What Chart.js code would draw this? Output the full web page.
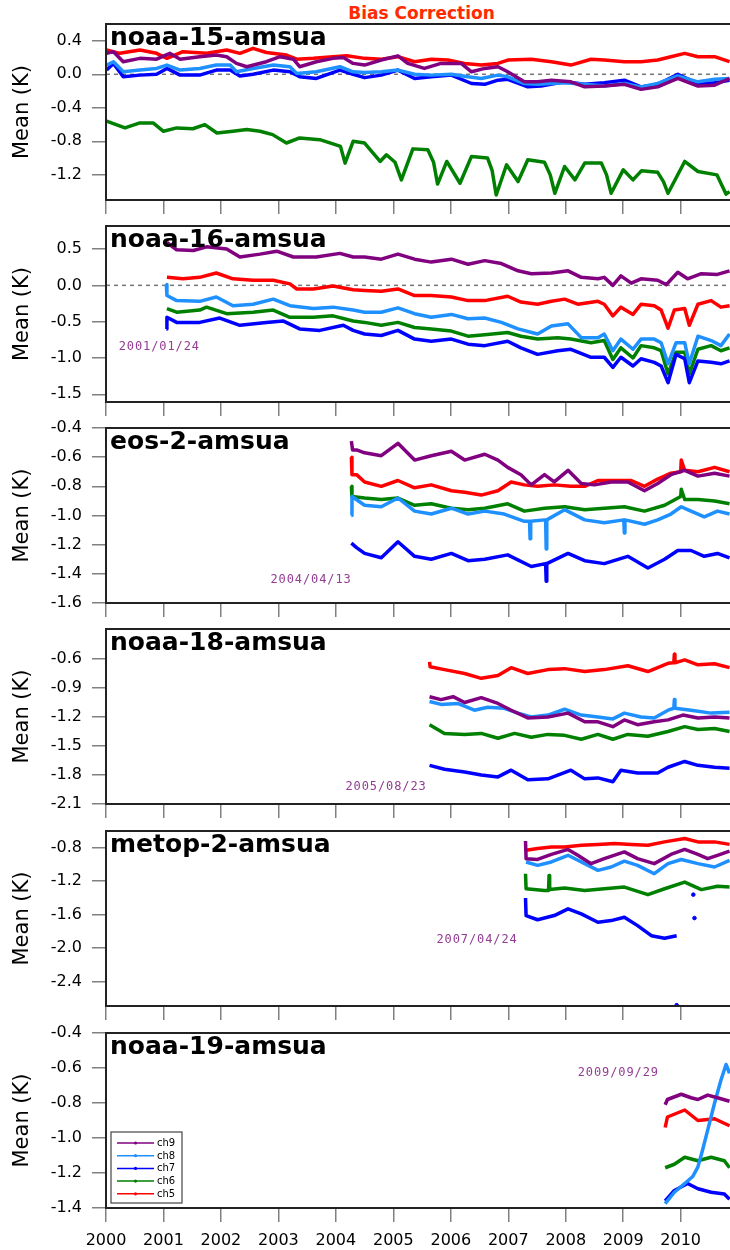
<!DOCTYPE html>
<html>
<head>
<meta charset="utf-8">
<script src="https://cdn.jsdelivr.net/npm/chart.js@4.4.0/dist/chart.umd.min.js"></script>
<style>
html, body { margin: 0; padding: 0; background: #fff; }
body { position: relative; width: 730px; height: 1250px; overflow: hidden; }
canvas { position: absolute; left: 0; }
#mainTitle {
    position: absolute; left: 0; width: 843px; top: 5px; text-align: center;
    font: bold 17px 'DejaVu Sans', sans-serif; line-height: 17px; color: #ff2a00;
}
</style>
</head>
<body>
<div id="mainTitle">Bias Correction</div>
<canvas id="p1"></canvas>
<canvas id="p2"></canvas>
<canvas id="p3"></canvas>
<canvas id="p4"></canvas>
<canvas id="p5"></canvas>
<canvas id="p6"></canvas>
<script>
// ---- data: [year, mean bias (K)] ----
const YEARS = [2000, 2001, 2002, 2003, 2004, 2005, 2006, 2007, 2008, 2009, 2010];
const CHANNELS = ['ch9', 'ch8', 'ch7', 'ch6', 'ch5'];

const n15Ticks = [0.4, 0.0, -0.4, -0.8, -1.2];
const n16Ticks = [0.5, 0.0, -0.5, -1.0, -1.5];
const eos2Ticks = [-0.4, -0.6, -0.8, -1.0, -1.2, -1.4, -1.6];
const n18Ticks = [-0.6, -0.9, -1.2, -1.5, -1.8, -2.1];
const metopTicks = [-0.8, -1.2, -1.6, -2.0, -2.4];
const n19Ticks = [-0.4, -0.6, -0.8, -1.0, -1.2, -1.4];

// noaa-15
const n15_ch9 = [[2000.01,0.25],[2000.13,0.27],[2000.30,0.15],[2000.59,0.19],[2000.88,0.18],[2001.11,0.25],[2001.29,0.18],[2001.63,0.21],[2001.92,0.23],[2002.10,0.21],[2002.27,0.13],[2002.45,0.09],[2002.79,0.15],[2003.03,0.21],[2003.26,0.18],[2003.37,0.09],[2003.66,0.15],[2003.95,0.19],[2004.13,0.20],[2004.30,0.13],[2004.50,0.11],[2004.79,0.17],[2005.08,0.22],[2005.25,0.13],[2005.54,0.07],[2005.83,0.13],[2006.18,0.13],[2006.36,0.03],[2006.59,0.07],[2006.82,0.09],[2006.99,0.03],[2007.28,-0.09],[2007.51,-0.09],[2007.75,-0.07],[2008.09,-0.09],[2008.33,-0.15],[2008.67,-0.14],[2009.02,-0.12],[2009.31,-0.18],[2009.60,-0.15],[2009.95,-0.05],[2010.30,-0.14],[2010.59,-0.13],[2010.85,-0.05]];
const n15_ch8 = [[2000.01,0.11],[2000.13,0.15],[2000.30,0.03],[2000.59,0.05],[2000.88,0.07],[2001.06,0.11],[2001.29,0.05],[2001.63,0.07],[2001.92,0.11],[2002.16,0.11],[2002.27,0.03],[2002.56,0.07],[2002.91,0.11],[2003.20,0.09],[2003.32,0.01],[2003.66,0.03],[2004.07,0.09],[2004.30,0.03],[2004.50,0.02],[2004.79,0.03],[2005.08,0.05],[2005.37,0.00],[2005.66,-0.01],[2006.01,0.00],[2006.30,-0.03],[2006.53,-0.05],[2006.82,-0.01],[2006.99,-0.03],[2007.28,-0.11],[2007.51,-0.12],[2007.98,-0.10],[2008.33,-0.12],[2008.67,-0.14],[2009.02,-0.11],[2009.31,-0.15],[2009.60,-0.11],[2009.95,-0.02],[2010.30,-0.09],[2010.59,-0.06],[2010.85,-0.05]];
const n15_ch7 = [[2000.01,0.05],[2000.13,0.13],[2000.30,-0.03],[2000.59,-0.01],[2000.88,0.00],[2001.06,0.07],[2001.29,-0.01],[2001.63,-0.01],[2001.92,0.05],[2002.16,0.05],[2002.33,-0.02],[2002.56,0.00],[2002.91,0.05],[2003.20,0.03],[2003.37,-0.03],[2003.66,-0.05],[2004.07,0.05],[2004.30,0.00],[2004.50,-0.04],[2004.79,-0.01],[2005.08,0.05],[2005.37,-0.05],[2005.66,-0.03],[2006.01,-0.01],[2006.36,-0.11],[2006.59,-0.12],[2006.82,-0.07],[2006.99,-0.06],[2007.34,-0.15],[2007.57,-0.14],[2007.98,-0.09],[2008.33,-0.12],[2008.67,-0.10],[2009.02,-0.07],[2009.31,-0.15],[2009.60,-0.12],[2009.95,0.00],[2010.30,-0.11],[2010.59,-0.10],[2010.85,-0.07]];
const n15_ch6 = [[2000.01,-0.56],[2000.33,-0.64],[2000.59,-0.58],[2000.82,-0.58],[2001.00,-0.68],[2001.23,-0.64],[2001.51,-0.65],[2001.72,-0.60],[2001.93,-0.70],[2002.21,-0.68],[2002.45,-0.66],[2002.68,-0.68],[2002.90,-0.72],[2003.14,-0.82],[2003.37,-0.76],[2003.72,-0.78],[2003.95,-0.83],[2004.08,-0.86],[2004.16,-1.06],[2004.30,-0.80],[2004.50,-0.82],[2004.77,-1.04],[2004.88,-0.96],[2005.03,-1.05],[2005.14,-1.26],[2005.34,-0.89],[2005.60,-0.90],[2005.70,-1.05],[2005.77,-1.31],[2005.93,-1.04],[2006.16,-1.30],[2006.36,-0.98],[2006.64,-1.00],[2006.72,-1.15],[2006.79,-1.44],[2006.97,-1.08],[2007.17,-1.28],[2007.34,-1.02],[2007.63,-1.05],[2007.73,-1.20],[2007.81,-1.42],[2007.98,-1.10],[2008.16,-1.26],[2008.33,-1.06],[2008.62,-1.06],[2008.71,-1.20],[2008.79,-1.42],[2009.00,-1.14],[2009.17,-1.26],[2009.32,-1.15],[2009.60,-1.17],[2009.70,-1.28],[2009.78,-1.42],[2010.07,-1.04],[2010.30,-1.16],[2010.63,-1.20],[2010.79,-1.43],[2010.85,-1.40]];
const n15_ch5 = [[2000.01,0.29],[2000.24,0.25],[2000.59,0.29],[2000.88,0.25],[2001.06,0.19],[2001.34,0.27],[2001.75,0.25],[2002.10,0.29],[2002.33,0.25],[2002.56,0.31],[2002.79,0.26],[2003.14,0.23],[2003.32,0.18],[2003.61,0.19],[2003.95,0.21],[2004.19,0.22],[2004.50,0.19],[2004.79,0.18],[2005.08,0.21],[2005.37,0.15],[2005.66,0.18],[2005.95,0.17],[2006.24,0.13],[2006.53,0.11],[2006.82,0.13],[2006.99,0.17],[2007.40,0.18],[2007.75,0.15],[2008.09,0.11],[2008.44,0.18],[2008.67,0.17],[2009.02,0.15],[2009.31,0.15],[2009.60,0.17],[2009.83,0.21],[2010.07,0.25],[2010.30,0.21],[2010.59,0.21],[2010.85,0.15]];

// noaa-16
const n16_ch9 = [[2001.06,0.59],[2001.23,0.49],[2001.52,0.48],[2001.75,0.53],[2002.10,0.50],[2002.33,0.39],[2002.68,0.43],[2002.97,0.47],[2003.26,0.39],[2003.66,0.39],[2004.07,0.44],[2004.30,0.39],[2004.50,0.39],[2004.79,0.36],[2005.08,0.43],[2005.37,0.36],[2005.66,0.32],[2006.01,0.36],[2006.30,0.29],[2006.59,0.34],[2006.88,0.30],[2007.17,0.20],[2007.40,0.16],[2007.75,0.17],[2008.04,0.20],[2008.27,0.11],[2008.56,0.09],[2008.67,0.11],[2008.82,0.00],[2008.96,0.13],[2009.14,0.03],[2009.31,0.09],[2009.60,0.07],[2009.75,0.01],[2009.95,0.18],[2010.12,0.09],[2010.36,0.16],[2010.64,0.15],[2010.85,0.20]];
const n16_ch8 = [[2001.05,0.01],[2001.06,-0.14],[2001.23,-0.21],[2001.63,-0.22],[2001.92,-0.16],[2002.21,-0.28],[2002.56,-0.26],[2002.91,-0.19],[2003.20,-0.28],[2003.61,-0.32],[2003.95,-0.30],[2004.30,-0.34],[2004.50,-0.37],[2004.79,-0.37],[2005.08,-0.31],[2005.37,-0.39],[2005.66,-0.44],[2006.01,-0.40],[2006.30,-0.46],[2006.59,-0.45],[2006.88,-0.51],[2007.17,-0.60],[2007.51,-0.67],[2007.75,-0.56],[2008.04,-0.53],[2008.27,-0.72],[2008.56,-0.72],[2008.67,-0.67],[2008.82,-0.90],[2008.96,-0.74],[2009.17,-0.88],[2009.31,-0.74],[2009.54,-0.74],[2009.66,-0.79],[2009.78,-1.08],[2009.92,-0.79],[2010.07,-0.79],[2010.15,-1.08],[2010.30,-0.70],[2010.53,-0.76],[2010.70,-0.83],[2010.85,-0.67]];
const n16_ch7 = [[2001.05,-0.60],[2001.06,-0.44],[2001.23,-0.51],[2001.63,-0.51],[2001.98,-0.45],[2002.33,-0.55],[2002.79,-0.51],[2003.08,-0.49],[2003.37,-0.60],[2003.72,-0.62],[2004.13,-0.55],[2004.30,-0.62],[2004.50,-0.67],[2004.79,-0.69],[2005.08,-0.62],[2005.37,-0.74],[2005.66,-0.77],[2006.01,-0.74],[2006.30,-0.81],[2006.59,-0.83],[2006.99,-0.77],[2007.22,-0.86],[2007.51,-0.95],[2007.86,-0.90],[2008.09,-0.88],[2008.44,-0.99],[2008.67,-0.99],[2008.82,-1.13],[2008.96,-0.99],[2009.17,-1.11],[2009.31,-1.01],[2009.54,-1.06],[2009.66,-1.11],[2009.78,-1.34],[2009.92,-0.95],[2010.07,-1.01],[2010.15,-1.34],[2010.30,-1.04],[2010.53,-1.06],[2010.70,-1.08],[2010.85,-1.04]];
const n16_ch6 = [[2001.06,-0.32],[2001.23,-0.37],[2001.63,-0.34],[2001.75,-0.30],[2002.10,-0.39],[2002.56,-0.37],[2002.91,-0.34],[2003.20,-0.44],[2003.61,-0.44],[2003.95,-0.42],[2004.30,-0.49],[2004.50,-0.51],[2004.79,-0.55],[2005.08,-0.51],[2005.37,-0.58],[2005.66,-0.60],[2006.01,-0.63],[2006.30,-0.70],[2006.59,-0.68],[2006.99,-0.65],[2007.22,-0.70],[2007.51,-0.74],[2007.86,-0.72],[2008.09,-0.74],[2008.44,-0.79],[2008.67,-0.76],[2008.82,-1.02],[2008.96,-0.86],[2009.17,-1.00],[2009.31,-0.83],[2009.54,-0.86],[2009.66,-0.90],[2009.78,-1.22],[2009.92,-0.92],[2010.07,-0.92],[2010.15,-1.22],[2010.30,-0.88],[2010.53,-0.83],[2010.70,-0.90],[2010.85,-0.86]];
const n16_ch5 = [[2001.06,0.11],[2001.34,0.09],[2001.63,0.11],[2001.92,0.17],[2002.21,0.09],[2002.56,0.07],[2002.91,0.07],[2003.20,0.02],[2003.32,-0.05],[2003.61,-0.05],[2003.95,-0.01],[2004.30,-0.06],[2004.50,-0.07],[2004.79,-0.08],[2005.08,-0.05],[2005.37,-0.14],[2005.66,-0.14],[2006.01,-0.16],[2006.30,-0.21],[2006.59,-0.21],[2006.99,-0.15],[2007.22,-0.23],[2007.51,-0.26],[2007.75,-0.22],[2007.98,-0.19],[2008.21,-0.26],[2008.56,-0.22],[2008.67,-0.26],[2008.82,-0.42],[2008.96,-0.30],[2009.17,-0.40],[2009.31,-0.26],[2009.54,-0.28],[2009.66,-0.34],[2009.78,-0.59],[2009.89,-0.34],[2010.07,-0.32],[2010.15,-0.55],[2010.30,-0.26],[2010.53,-0.21],[2010.70,-0.30],[2010.85,-0.28]];

// eos-2
const eos2_ch9 = [[2004.27,-0.49],[2004.29,-0.55],[2004.36,-0.55],[2004.50,-0.57],[2004.79,-0.59],[2005.08,-0.505],[2005.37,-0.62],[2005.66,-0.59],[2006.01,-0.56],[2006.24,-0.62],[2006.59,-0.58],[2006.82,-0.62],[2006.99,-0.67],[2007.22,-0.72],[2007.40,-0.79],[2007.63,-0.72],[2007.80,-0.77],[2008.04,-0.69],[2008.27,-0.78],[2008.50,-0.79],[2008.79,-0.77],[2009.08,-0.77],[2009.37,-0.83],[2009.60,-0.78],[2009.83,-0.72],[2010.07,-0.69],[2010.30,-0.73],[2010.59,-0.71],[2010.85,-0.73]];
const eos2_ch8 = [[2004.27,-1.00],[2004.28,-0.87],[2004.50,-0.93],[2004.79,-0.94],[2005.08,-0.88],[2005.37,-0.97],[2005.66,-0.99],[2006.01,-0.95],[2006.30,-0.99],[2006.59,-0.97],[2006.93,-0.99],[2007.28,-1.04],[2007.37,-1.04],[2007.38,-1.16],[2007.39,-1.04],[2007.63,-1.03],[2007.65,-1.03],[2007.66,-1.23],[2007.67,-1.03],[2007.98,-0.96],[2008.33,-1.03],[2008.67,-1.05],[2009.01,-1.03],[2009.02,-1.12],[2009.03,-1.03],[2009.37,-1.06],[2009.60,-1.03],[2009.83,-0.99],[2010.01,-0.94],[2010.12,-0.96],[2010.41,-1.01],[2010.64,-0.97],[2010.85,-0.99]];
const eos2_ch7 = [[2004.27,-1.19],[2004.36,-1.22],[2004.50,-1.26],[2004.79,-1.29],[2005.08,-1.18],[2005.37,-1.28],[2005.66,-1.30],[2006.01,-1.26],[2006.30,-1.31],[2006.59,-1.30],[2006.99,-1.27],[2007.40,-1.35],[2007.65,-1.33],[2007.66,-1.45],[2007.67,-1.33],[2008.04,-1.26],[2008.33,-1.31],[2008.67,-1.33],[2009.08,-1.28],[2009.43,-1.36],[2009.72,-1.30],[2009.95,-1.24],[2010.18,-1.24],[2010.41,-1.28],[2010.64,-1.26],[2010.85,-1.29]];
const eos2_ch6 = [[2004.27,-0.80],[2004.28,-0.87],[2004.50,-0.88],[2004.79,-0.89],[2005.08,-0.88],[2005.37,-0.93],[2005.66,-0.92],[2006.01,-0.95],[2006.30,-0.96],[2006.59,-0.95],[2006.99,-0.92],[2007.28,-0.97],[2007.63,-0.95],[2007.98,-0.94],[2008.33,-0.96],[2008.67,-0.95],[2009.02,-0.94],[2009.37,-0.97],[2009.72,-0.93],[2010.00,-0.87],[2010.01,-0.82],[2010.07,-0.89],[2010.30,-0.89],[2010.59,-0.90],[2010.85,-0.92]];
const eos2_ch5 = [[2004.27,-0.60],[2004.28,-0.72],[2004.36,-0.72],[2004.50,-0.77],[2004.79,-0.80],[2005.08,-0.76],[2005.37,-0.81],[2005.66,-0.79],[2006.01,-0.83],[2006.24,-0.84],[2006.53,-0.86],[2006.82,-0.83],[2007.05,-0.77],[2007.28,-0.79],[2007.51,-0.80],[2007.80,-0.79],[2008.09,-0.80],[2008.33,-0.80],[2008.56,-0.76],[2008.91,-0.76],[2009.14,-0.76],[2009.37,-0.80],[2009.60,-0.75],[2009.83,-0.71],[2010.00,-0.70],[2010.01,-0.62],[2010.07,-0.69],[2010.30,-0.70],[2010.59,-0.67],[2010.85,-0.70]];

// noaa-18
const n18_ch9 = [[2005.63,-0.99],[2005.83,-1.02],[2006.04,-0.99],[2006.24,-1.05],[2006.53,-1.00],[2006.82,-1.06],[2007.05,-1.13],[2007.34,-1.21],[2007.69,-1.20],[2008.04,-1.16],[2008.33,-1.25],[2008.56,-1.25],[2008.82,-1.30],[2009.02,-1.23],[2009.25,-1.28],[2009.54,-1.25],[2009.78,-1.23],[2010.04,-1.18],[2010.30,-1.21],[2010.59,-1.20],[2010.85,-1.21]];
const n18_ch8 = [[2005.63,-1.04],[2005.83,-1.07],[2006.12,-1.06],[2006.41,-1.13],[2006.64,-1.10],[2006.93,-1.11],[2007.17,-1.16],[2007.40,-1.20],[2007.69,-1.18],[2007.98,-1.12],[2008.27,-1.18],[2008.56,-1.20],[2008.82,-1.22],[2009.02,-1.16],[2009.31,-1.20],[2009.54,-1.21],[2009.78,-1.13],[2009.88,-1.11],[2009.89,-1.02],[2009.90,-1.11],[2010.18,-1.13],[2010.53,-1.16],[2010.85,-1.15]];
const n18_ch7 = [[2005.63,-1.70],[2005.89,-1.74],[2006.24,-1.77],[2006.53,-1.80],[2006.82,-1.82],[2007.05,-1.75],[2007.34,-1.85],[2007.69,-1.84],[2008.09,-1.75],[2008.33,-1.84],[2008.56,-1.83],[2008.82,-1.87],[2008.96,-1.75],[2009.25,-1.78],[2009.60,-1.78],[2009.78,-1.72],[2010.07,-1.66],[2010.30,-1.70],[2010.59,-1.72],[2010.85,-1.73]];
const n18_ch6 = [[2005.63,-1.28],[2005.89,-1.37],[2006.24,-1.38],[2006.53,-1.37],[2006.82,-1.42],[2007.11,-1.37],[2007.40,-1.41],[2007.69,-1.38],[2007.98,-1.39],[2008.27,-1.43],[2008.56,-1.38],[2008.82,-1.43],[2009.08,-1.38],[2009.43,-1.40],[2009.78,-1.35],[2010.07,-1.30],[2010.30,-1.33],[2010.59,-1.32],[2010.85,-1.35]];
const n18_ch5 = [[2005.63,-0.63],[2005.64,-0.68],[2005.89,-0.71],[2006.24,-0.75],[2006.53,-0.80],[2006.82,-0.77],[2007.05,-0.69],[2007.34,-0.75],[2007.69,-0.71],[2007.98,-0.70],[2008.33,-0.73],[2008.67,-0.71],[2009.08,-0.67],[2009.43,-0.73],[2009.78,-0.645],[2009.88,-0.64],[2009.89,-0.55],[2009.90,-0.64],[2010.07,-0.61],[2010.30,-0.66],[2010.59,-0.65],[2010.85,-0.69]];

// metop-2
const metop_ch9 = [[2007.30,-0.72],[2007.31,-0.93],[2007.51,-0.94],[2007.75,-0.88],[2008.04,-0.82],[2008.21,-0.89],[2008.44,-0.99],[2008.67,-0.93],[2009.02,-0.85],[2009.25,-0.93],[2009.54,-0.99],[2009.83,-0.88],[2010.07,-0.82],[2010.30,-0.88],[2010.47,-0.93],[2010.64,-0.89],[2010.85,-0.84]];
const metop_ch8 = [[2007.31,-0.97],[2007.51,-1.01],[2007.75,-0.97],[2008.04,-0.89],[2008.33,-0.99],[2008.56,-1.07],[2008.79,-1.03],[2009.02,-0.96],[2009.25,-1.01],[2009.54,-1.11],[2009.78,-0.99],[2010.01,-0.94],[2010.30,-0.99],[2010.59,-1.03],[2010.85,-0.95]];
const metop_ch7 = [[2007.30,-1.40],[2007.31,-1.61],[2007.51,-1.66],[2007.80,-1.61],[2008.04,-1.53],[2008.27,-1.59],[2008.56,-1.69],[2008.79,-1.67],[2009.02,-1.63],[2009.25,-1.73],[2009.49,-1.85],[2009.72,-1.88],[2009.93,-1.85]];
const metop_ch7_stray = [[2010.22,-1.36],[2010.24,-1.64],[2009.93,-2.68]];
const metop_ch6 = [[2007.30,-1.11],[2007.31,-1.29],[2007.63,-1.31],[2007.70,-1.31],[2007.71,-1.13],[2007.72,-1.30],[2007.98,-1.28],[2008.33,-1.31],[2008.67,-1.29],[2009.02,-1.27],[2009.43,-1.36],[2009.72,-1.29],[2010.07,-1.21],[2010.36,-1.30],[2010.64,-1.26],[2010.85,-1.27]];
const metop_ch5 = [[2007.31,-0.83],[2007.51,-0.81],[2007.75,-0.79],[2007.98,-0.79],[2008.27,-0.77],[2008.56,-0.76],[2008.85,-0.75],[2009.14,-0.76],[2009.43,-0.77],[2009.72,-0.73],[2010.07,-0.69],[2010.30,-0.73],[2010.59,-0.73],[2010.85,-0.76]];

// noaa-19
const n19_ch9 = [[2009.73,-0.81],[2009.77,-0.78],[2010.01,-0.75],[2010.18,-0.77],[2010.30,-0.78],[2010.47,-0.755],[2010.64,-0.77],[2010.85,-0.79]];
const n19_ch8 = [[2009.73,-1.375],[2009.89,-1.31],[2010.07,-1.26],[2010.21,-1.22],[2010.30,-1.165],[2010.38,-1.07],[2010.47,-0.955],[2010.59,-0.80],[2010.70,-0.67],[2010.79,-0.58],[2010.85,-0.63]];
const n19_ch7 = [[2009.73,-1.36],[2009.89,-1.30],[2010.12,-1.26],[2010.30,-1.29],[2010.53,-1.31],[2010.76,-1.32],[2010.85,-1.35]];
const n19_ch6 = [[2009.73,-1.17],[2009.89,-1.15],[2010.07,-1.11],[2010.30,-1.13],[2010.53,-1.11],[2010.76,-1.13],[2010.85,-1.17]];
const n19_ch5 = [[2009.73,-0.94],[2009.77,-0.88],[2010.07,-0.84],[2010.30,-0.90],[2010.59,-0.89],[2010.85,-0.93]];

// ---- look ----
const COLORS = { ch9: '#800080', ch8: '#1e90ff', ch7: '#0000ff', ch6: '#008000', ch5: '#ff0000' };
const FONT = "'DejaVu Sans', sans-serif";
const X_MIN = 2000, X_MAX = 2010.893;

const panels = [
    { id: 'p1', name: 'noaa-15-amsua', top: 24, bottom: 200, yMin: -1.5, yMax: 0.6, ticks: n15Ticks, zero: true,
      series: { ch9: n15_ch9, ch8: n15_ch8, ch7: n15_ch7, ch6: n15_ch6, ch5: n15_ch5 } },
    { id: 'p2', name: 'noaa-16-amsua', top: 226, bottom: 402, yMin: -1.606, yMax: 0.817, ticks: n16Ticks, zero: true,
      date: '2001/01/24', dateX: 2001.635, dateY: -0.89,
      series: { ch9: n16_ch9, ch8: n16_ch8, ch7: n16_ch7, ch6: n16_ch6, ch5: n16_ch5 } },
    { id: 'p3', name: 'eos-2-amsua', top: 428, bottom: 603, yMin: -1.6, yMax: -0.4, ticks: eos2Ticks,
      date: '2004/04/13', dateX: 2004.275, dateY: -1.465,
      series: { ch9: eos2_ch9, ch8: eos2_ch8, ch7: eos2_ch7, ch6: eos2_ch6, ch5: eos2_ch5 } },
    { id: 'p4', name: 'noaa-18-amsua', top: 629, bottom: 804, yMin: -2.1, yMax: -0.29, ticks: n18Ticks,
      date: '2005/08/23', dateX: 2005.58, dateY: -1.955,
      series: { ch9: n18_ch9, ch8: n18_ch8, ch7: n18_ch7, ch6: n18_ch6, ch5: n18_ch5 } },
    { id: 'p5', name: 'metop-2-amsua', top: 831, bottom: 1006, yMin: -2.69, yMax: -0.6, ticks: metopTicks,
      date: '2007/04/24', dateX: 2007.164, dateY: -1.941, stray: metop_ch7_stray,
      series: { ch9: metop_ch9, ch8: metop_ch8, ch7: metop_ch7, ch6: metop_ch6, ch5: metop_ch5 } },
    { id: 'p6', name: 'noaa-19-amsua', top: 1033, bottom: 1208, yMin: -1.4, yMax: -0.4, ticks: n19Ticks, legend: true,
      date: '2009/09/29', dateX: 2009.622, dateY: -0.644,
      series: { ch9: n19_ch9, ch8: n19_ch8, ch7: n19_ch7, ch6: n19_ch6, ch5: n19_ch5 } }
];

// box round the plot, dashed zero line, panel name, start date, legend
const panelDecor = {
    id: 'panelDecor',
    beforeDatasetsDraw(chart, args, o) {
        if (!o.zero) return;
        const { ctx, chartArea: a, scales } = chart;
        const y = scales.y.getPixelForValue(0);
        ctx.save();
        ctx.strokeStyle = '#777';
        ctx.lineWidth = 1.5;
        ctx.setLineDash([4, 4]);
        ctx.beginPath();
        ctx.moveTo(a.left, y);
        ctx.lineTo(a.right, y);
        ctx.stroke();
        ctx.restore();
    },
    afterDraw(chart, args, o) {
        const { ctx, chartArea: a, scales } = chart;
        ctx.save();
        ctx.strokeStyle = '#222';
        ctx.lineWidth = 2;
        ctx.strokeRect(a.left, a.top, a.right - a.left, a.bottom - a.top);

        ctx.fillStyle = '#000';
        ctx.font = 'bold 25px ' + FONT;
        ctx.textBaseline = 'alphabetic';
        ctx.textAlign = 'left';
        ctx.fillText(o.name, a.left + 4, a.top + 21);

        if (o.date) {
            ctx.fillStyle = '#923c92';
            ctx.font = "12px 'DejaVu Sans Mono', monospace";
            ctx.letterSpacing = '0.9px';
            ctx.textAlign = 'right';
            ctx.fillText(o.date, scales.x.getPixelForValue(o.dateX), scales.y.getPixelForValue(o.dateY));
            ctx.letterSpacing = '0px';
        }

        if (o.legend) {
            const x0 = a.left + 5, y0 = a.bottom - 76, w = 71, h = 71;
            ctx.fillStyle = '#fff';
            ctx.fillRect(x0, y0, w, h);
            ctx.strokeStyle = '#444';
            ctx.lineWidth = 1.2;
            ctx.strokeRect(x0, y0, w, h);
            ctx.font = '10px ' + FONT;
            ctx.textAlign = 'left';
            ctx.textBaseline = 'middle';
            chart.data.datasets.filter(d => CHANNELS.includes(d.label)).forEach((d, i) => {
                const y = y0 + 11 + i * 12.7;
                ctx.strokeStyle = d.borderColor;
                ctx.lineWidth = 1.5;
                ctx.beginPath();
                ctx.moveTo(x0 + 6, y);
                ctx.lineTo(x0 + 43, y);
                ctx.stroke();
                ctx.fillStyle = d.borderColor;
                ctx.beginPath();
                ctx.arc(x0 + 24.5, y, 1.6, 0, Math.PI * 2);
                ctx.fill();
                ctx.fillStyle = '#000';
                ctx.fillText(d.label, x0 + 46, y + 0.5);
            });
        }
        ctx.restore();
    }
};

function makePanel(p, last) {
    const padTop = 12;
    const xh = last ? 42 : 20;
    const cv = document.getElementById(p.id);
    cv.width = 740;
    cv.height = padTop + (p.bottom - p.top) + xh;
    cv.style.top = (p.top - padTop) + 'px';

    const datasets = CHANNELS.map(ch => ({
        label: ch,
        data: p.series[ch].map(([x, y]) => ({ x, y })),
        borderColor: COLORS[ch],
        backgroundColor: COLORS[ch],
        borderWidth: 3.5,
        borderJoinStyle: 'round',
        pointRadius: 0,
        pointHoverRadius: 0,
        tension: 0
    }));
    if (p.stray) {
        datasets.push({
            data: p.stray.map(([x, y]) => ({ x, y })),
            showLine: false,
            borderColor: COLORS.ch7,
            backgroundColor: COLORS.ch7,
            pointRadius: 1.8
        });
    }

    const gridStyle = { display: true, drawOnChartArea: false, drawTicks: true, tickLength: 14, color: '#808080', lineWidth: 1.5 };

    return new Chart(cv, {
        type: 'line',
        data: { datasets },
        options: {
            responsive: false,
            animation: false,
            events: [],
            layout: { padding: { top: padTop, left: 0, right: 8, bottom: 0 } },
            plugins: {
                legend: { display: false },
                tooltip: { enabled: false },
                panelDecor: { name: p.name, date: p.date, dateX: p.dateX, dateY: p.dateY, zero: !!p.zero, legend: !!p.legend }
            },
            scales: {
                x: {
                    type: 'linear',
                    min: X_MIN,
                    max: X_MAX,
                    afterBuildTicks: s => { s.ticks = YEARS.map(v => ({ value: v })); },
                    afterFit: s => { s.height = xh; s.paddingLeft = 0; s.paddingRight = 0; },
                    grid: gridStyle,
                    border: { display: false },
                    ticks: {
                        display: last,
                        autoSkip: false,
                        maxRotation: 0,
                        padding: 9,
                        color: '#000',
                        font: { family: FONT, size: 16 },
                        callback: v => String(v)
                    }
                },
                y: {
                    type: 'linear',
                    min: p.yMin,
                    max: p.yMax,
                    afterBuildTicks: s => { s.ticks = p.ticks.map(v => ({ value: v })); },
                    afterFit: s => { s.width = 106; s.paddingTop = 0; s.paddingBottom = 0; },
                    grid: gridStyle,
                    border: { display: false },
                    ticks: {
                        padding: 10,
                        color: '#000',
                        font: { family: FONT, size: 16 },
                        callback: v => v.toFixed(1)
                    },
                    title: {
                        display: true,
                        text: 'Mean (K)',
                        color: '#000',
                        font: { family: FONT, size: 21 },
                        padding: { top: 10, bottom: 0 }
                    }
                }
            }
        },
        plugins: [panelDecor]
    });
}

panels.forEach((p, i) => makePanel(p, i === panels.length - 1));
</script>
</body>
</html>
